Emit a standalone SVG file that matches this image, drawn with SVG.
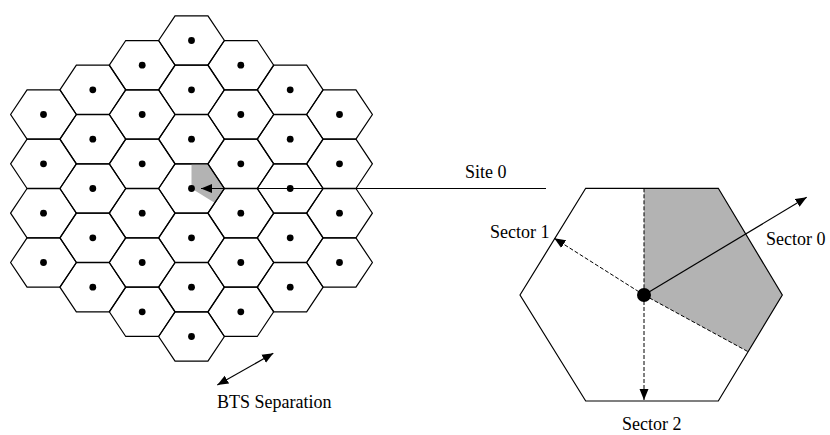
<svg xmlns="http://www.w3.org/2000/svg" xmlns:xlink="http://www.w3.org/1999/xlink" width="830" height="435" viewBox="0 0 830 435">
<style>
.hex{fill:none;stroke:#000;stroke-width:1.2}
.dot{fill:#000}
.sh{fill:#b3b3b3;stroke:none}
.ln{stroke:#000;stroke-width:1.2;fill:none}
.ds{stroke:#000;stroke-width:1;fill:none;stroke-dasharray:4 2}
.t{font-family:"Liberation Serif","Times New Roman",serif;font-size:18px;fill:#000}
</style>
<defs>
<marker id="ah" markerUnits="userSpaceOnUse" markerWidth="12" markerHeight="10" refX="11" refY="4.5" orient="auto-start-reverse" viewBox="0 0 12 9">
<path d="M0,0 L11,4.5 L0,9 z" fill="#000"/>
</marker>
<g id="cell">
<path class="hex" d="M-32.9,0 L-16.45,-24.67 L16.45,-24.67 L32.9,0 L16.45,24.67 L-16.45,24.67 Z"/>
<circle class="dot" r="3.4"/>
</g>
</defs>
<g id="grid">
<g id="c-3-0"><use xlink:href="#cell" x="43.5" y="114.5"/></g>
<g id="c-3-1"><use xlink:href="#cell" x="43.5" y="163.8"/></g>
<g id="c-3-2"><use xlink:href="#cell" x="43.5" y="213.2"/></g>
<g id="c-3-3"><use xlink:href="#cell" x="43.5" y="262.5"/></g>
<g id="c-2-0"><use xlink:href="#cell" x="92.8" y="89.8"/></g>
<g id="c-2-1"><use xlink:href="#cell" x="92.8" y="139.2"/></g>
<g id="c-2-2"><use xlink:href="#cell" x="92.8" y="188.5"/></g>
<g id="c-2-3"><use xlink:href="#cell" x="92.8" y="237.8"/></g>
<g id="c-2-4"><use xlink:href="#cell" x="92.8" y="287.2"/></g>
<g id="c-1-0"><use xlink:href="#cell" x="142.2" y="65.2"/></g>
<g id="c-1-1"><use xlink:href="#cell" x="142.2" y="114.5"/></g>
<g id="c-1-2"><use xlink:href="#cell" x="142.2" y="163.8"/></g>
<g id="c-1-3"><use xlink:href="#cell" x="142.2" y="213.2"/></g>
<g id="c-1-4"><use xlink:href="#cell" x="142.2" y="262.5"/></g>
<g id="c-1-5"><use xlink:href="#cell" x="142.2" y="311.8"/></g>
<g id="c0-0"><use xlink:href="#cell" x="191.5" y="40.5"/></g>
<g id="c0-1"><use xlink:href="#cell" x="191.5" y="89.8"/></g>
<g id="c0-2"><use xlink:href="#cell" x="191.5" y="139.2"/></g>
<g id="site0"><polygon class="sh" points="191.5,163.8 207.9,163.8 224.4,188.5 215,203 191.5,188.5"/><use xlink:href="#cell" x="191.5" y="188.5"/></g>
<g id="c0-4"><use xlink:href="#cell" x="191.5" y="237.8"/></g>
<g id="c0-5"><use xlink:href="#cell" x="191.5" y="287.2"/></g>
<g id="c0-6"><use xlink:href="#cell" x="191.5" y="336.5"/></g>
<g id="c1-0"><use xlink:href="#cell" x="240.8" y="65.2"/></g>
<g id="c1-1"><use xlink:href="#cell" x="240.8" y="114.5"/></g>
<g id="c1-2"><use xlink:href="#cell" x="240.8" y="163.8"/></g>
<g id="c1-3"><use xlink:href="#cell" x="240.8" y="213.2"/></g>
<g id="c1-4"><use xlink:href="#cell" x="240.8" y="262.5"/></g>
<g id="c1-5"><use xlink:href="#cell" x="240.8" y="311.8"/></g>
<g id="c2-0"><use xlink:href="#cell" x="290.2" y="89.8"/></g>
<g id="c2-1"><use xlink:href="#cell" x="290.2" y="139.2"/></g>
<g id="c2-2"><use xlink:href="#cell" x="290.2" y="188.5"/></g>
<g id="c2-3"><use xlink:href="#cell" x="290.2" y="237.8"/></g>
<g id="c2-4"><use xlink:href="#cell" x="290.2" y="287.2"/></g>
<g id="c3-0"><use xlink:href="#cell" x="339.5" y="114.5"/></g>
<g id="c3-1"><use xlink:href="#cell" x="339.5" y="163.8"/></g>
<g id="c3-2"><use xlink:href="#cell" x="339.5" y="213.2"/></g>
<g id="c3-3"><use xlink:href="#cell" x="339.5" y="262.5"/></g>
</g>
<g id="site-detail">
<polygon class="sh" points="644,188.3 718.3,188.3 782.3,295 748.1,351.7 644,295"/>
<polygon class="hex" points="520,295 585.7,188.3 718.3,188.3 782.3,295 718.3,401 585.7,401"/>
<circle class="dot" cx="644" cy="295" r="7"/>
</g>
<g id="connectors">
<line class="ln" x1="546" y1="188.5" x2="201" y2="188.5" marker-end="url(#ah)"/>
<line class="ln" x1="217.3" y1="385" x2="273.3" y2="353.3" marker-start="url(#ah)" marker-end="url(#ah)"/>
<line class="ds" x1="644" y1="188.3" x2="644" y2="295"/>
<line class="ds" x1="644" y1="295" x2="644" y2="400" marker-end="url(#ah)"/>
<line class="ds" x1="644" y1="295" x2="554.3" y2="238.3" marker-end="url(#ah)"/>
<line class="ds" x1="644" y1="295" x2="748.1" y2="351.7"/>
<line class="ln" x1="644" y1="295" x2="806.7" y2="197.3" marker-end="url(#ah)"/>
</g>
<g id="labels">
<text class="t" x="465" y="178">Site 0</text>
<text class="t" x="490" y="238">Sector 1</text>
<text class="t" x="766" y="245">Sector 0</text>
<text class="t" x="622" y="430">Sector 2</text>
<text class="t" x="217" y="408">BTS Separation</text>
</g>
</svg>
